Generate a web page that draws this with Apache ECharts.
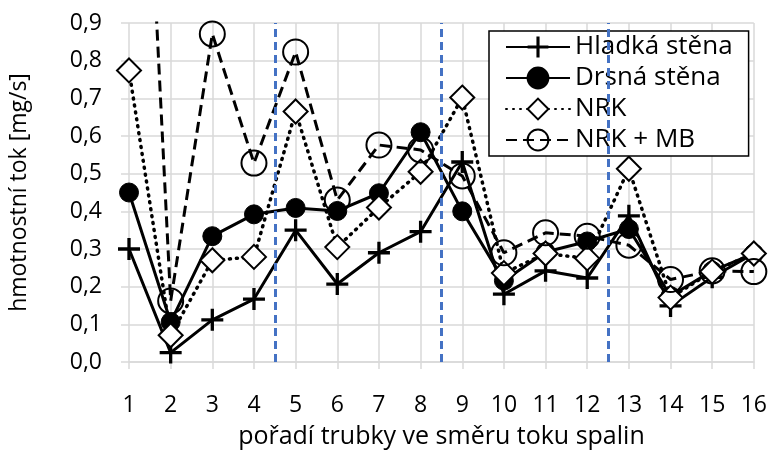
<!DOCTYPE html>
<html><head><meta charset="utf-8">
<script src="https://cdn.jsdelivr.net/npm/echarts@6/dist/echarts.min.js"></script>
<style>html,body{margin:0;padding:0;background:#fff}#c{width:770px;height:454px}</style>
</head><body><div id="c"></div>
<script>
const categories = [1,2,3,4,5,6,7,8,9,10,11,12,13,14,15,16];
const hladka = [0.30,0.025,0.112,0.167,0.350,0.207,0.290,0.346,0.531,0.180,0.242,0.223,0.388,0.149,0.225,0.288];
const drsna  = [0.450,0.106,0.334,0.392,0.409,0.401,0.448,0.610,0.400,0.216,0.292,0.320,0.353,0.175,0.242,0.288];
const nrk    = [0.774,0.071,0.270,0.279,0.665,0.305,0.410,0.505,0.702,0.236,0.288,0.275,0.513,0.171,0.240,0.288];
const nrkMb  = [2.37,0.162,0.871,0.528,0.823,0.430,0.576,0.563,0.494,0.290,0.343,0.334,0.310,0.219,0.242,0.240];
const dividers = [4.5, 8.5, 12.5];
const names = ['Hladká stěna','Drsná stěna','NRK','NRK + MB'];

const FONT = '"Open Sans"';
const pts = arr => categories.map((c,i)=>[c,arr[i]]);
const plus = 'path://M-0.15,-1 L0.15,-1 L0.15,-0.15 L1,-0.15 L1,0.15 L0.15,0.15 L0.15,1 L-0.15,1 L-0.15,0.15 L-1,0.15 L-1,-0.15 L-0.15,-0.15 Z';
const fmt = v => v.toFixed(1).replace('.', ',');

const chart = echarts.init(document.getElementById('c'), null, {renderer:'canvas'});
chart.setOption({
  animation:false,
  backgroundColor:'#fff',
  textStyle:{fontFamily:FONT,color:'#000'},
  grid:{left:127,right:16,top:23,bottom:85,containLabel:false},
  xAxis:{type:'value',min:1,max:16,interval:1,
    name:'pořadí trubky ve směru toku spalin',nameLocation:'middle',nameGap:62,
    nameTextStyle:{fontSize:25,color:'#000',fontFamily:FONT},
    axisLine:{show:true,lineStyle:{color:'#d9d9d9',width:1.5}},
    axisTick:{show:true,length:7,lineStyle:{color:'#d9d9d9',width:1.5}},
    axisLabel:{fontSize:23,color:'#000',margin:32,fontFamily:FONT},
    splitLine:{show:true,lineStyle:{color:'#d9d9d9',width:1.5}}},
  yAxis:{type:'value',min:0,max:0.9,interval:0.1,
    name:'hmotnostní tok [mg/s]',nameLocation:'middle',nameGap:98,
    nameTextStyle:{fontSize:23,color:'#000',fontFamily:FONT},
    axisLine:{show:false},
    axisTick:{show:true,length:8,lineStyle:{color:'#d9d9d9',width:1.5}},
    axisLabel:{fontSize:23,color:'#000',margin:27,formatter:fmt,fontFamily:FONT},
    splitLine:{show:true,lineStyle:{color:'#d9d9d9',width:1.5}}},
  legend:{orient:'vertical',left:489,top:31,padding:[3,16,3,16],
    backgroundColor:'#fff',borderColor:'#000',borderWidth:1.5,
    itemWidth:64,itemHeight:26,itemGap:5,
    textStyle:{fontSize:26,color:'#000',fontFamily:FONT},
    data:names},
  series:[
    {name:'dividers',type:'line',data:[],silent:true,
     markLine:{silent:true,symbol:'none',label:{show:false},
       lineStyle:{color:'#4472c4',width:3,type:[8,5]},
       data:dividers.map(v=>({xAxis:v}))}},
    {name:names[0],type:'line',data:pts(hladka),clip:true,
     lineStyle:{color:'#000',width:3,type:'solid'},
     symbol:plus,symbolSize:22,showAllSymbol:true,
     itemStyle:{color:'#000',borderWidth:0}},
    {name:names[1],type:'line',data:pts(drsna),clip:true,
     lineStyle:{color:'#000',width:3,type:'solid'},
     symbol:'circle',symbolSize:19,showAllSymbol:true,
     itemStyle:{color:'#000',borderColor:'#000',borderWidth:1}},
    {name:names[2],type:'line',data:pts(nrk),clip:true,
     lineStyle:{color:'#000',width:3.5,type:[1,6],cap:'round'},
     symbol:'diamond',symbolSize:[24,24],showAllSymbol:true,
     itemStyle:{color:'#fff',borderColor:'#000',borderWidth:2}},
    {name:names[3],type:'line',data:pts(nrkMb),clip:true,
     lineStyle:{color:'#000',width:3,type:[11,6]},
     symbol:'circle',symbolSize:25,showAllSymbol:true,
     itemStyle:{color:'rgba(255,255,255,0)',borderColor:'#000',borderWidth:2}}
  ]
});
</script></body></html>
